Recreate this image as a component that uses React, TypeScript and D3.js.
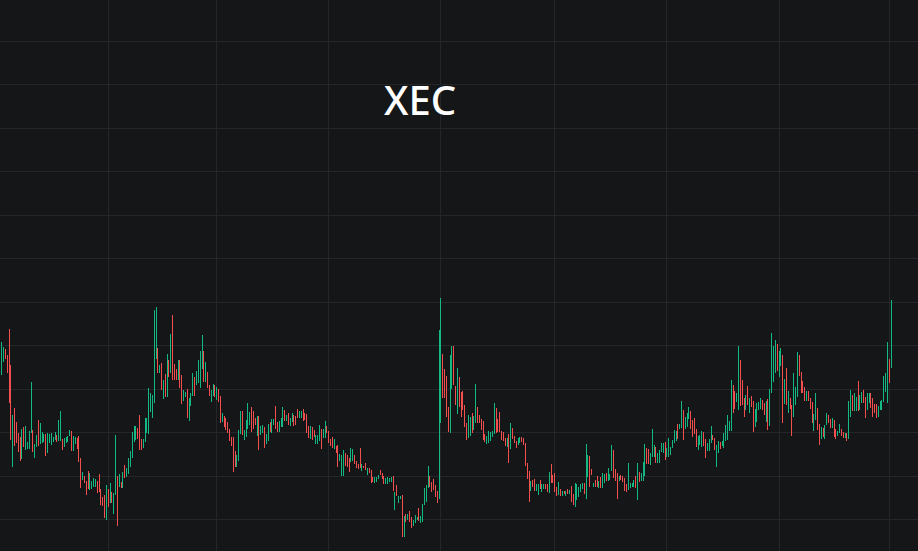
import React from "react";
import * as d3 from "d3";

// ---- data (daily candles, price in 1e-6 USD) ----
const TITLE = "XEC";
const FIRST_DAY = "2022-11-04";

const open = [
  27.11, 27.47, 27.70, 27.33, 27.74, 26.07, 23.15, 24.62, 24.20, 23.72,
  23.49, 23.20, 24.00, 23.53, 23.34, 23.50, 24.68, 23.82, 23.04, 23.50,
  24.23, 23.77, 23.67, 23.69, 23.64, 23.35, 23.64, 23.61, 23.64, 23.78,
  23.80, 23.90, 24.04, 23.56, 23.47, 23.62, 23.66, 23.94, 23.79, 23.36,
  23.58, 23.61, 23.50, 22.44, 21.93, 21.91, 21.59, 21.98, 21.59, 21.52,
  21.63, 21.62, 21.62, 21.86, 21.19, 20.93, 20.82, 20.46, 21.16, 21.03,
  21.14, 20.55, 21.96, 21.32, 21.69, 21.66, 21.67, 22.33, 22.10, 22.33,
  22.65, 23.21, 23.80, 23.86, 24.07, 24.33, 23.56, 23.43, 23.91, 24.19,
  24.58, 25.23, 25.00, 26.64, 28.10, 27.56, 26.84, 26.84, 25.81, 26.38,
  26.23, 27.10, 27.27, 28.51, 26.94, 26.77, 26.70, 26.95, 26.25, 25.62,
  25.73, 25.61, 24.86, 25.40, 26.00, 26.29, 26.38, 26.59, 26.57, 27.39,
  27.32, 26.62, 26.57, 26.04, 25.59, 25.86, 26.02, 25.68, 25.84, 25.31,
  24.62, 24.62, 24.50, 24.35, 24.00, 23.69, 23.33, 22.93, 22.60, 23.13,
  24.26, 24.67, 23.80, 24.05, 24.53, 24.54, 24.85, 24.75, 24.57, 24.13,
  24.30, 24.02, 24.08, 23.99, 23.62, 23.86, 24.37, 24.19, 24.43, 24.91,
  24.37, 24.20, 24.40, 24.56, 24.89, 24.63, 24.73, 24.42, 24.62, 24.66,
  24.65, 24.97, 24.76, 24.78, 24.93, 24.82, 24.60, 24.14, 23.89, 24.09,
  24.03, 23.60, 23.58, 23.83, 23.89, 23.87, 24.00, 24.21, 23.91, 23.61,
  23.66, 23.39, 23.29, 23.13, 22.80, 22.30, 22.37, 22.88, 22.81, 22.63,
  22.85, 22.87, 22.85, 22.61, 22.49, 23.01, 22.34, 22.44, 22.50, 22.14,
  22.30, 22.10, 21.91, 21.78, 21.82, 21.95, 22.23, 22.08, 21.90, 21.73,
  21.74, 21.78, 21.83, 21.81, 20.70, 21.43, 20.87, 20.98, 20.56, 19.50,
  20.15, 20.06, 20.24, 19.97, 19.79, 19.96, 20.02, 20.35, 19.95, 20.15,
  20.90, 21.05, 21.75, 21.86, 21.61, 21.72, 21.43, 21.16, 23.28, 26.19,
  27.01, 26.52, 26.05, 24.85, 25.07, 26.60, 27.45, 25.89, 25.49, 26.14,
  25.54, 25.66, 24.97, 24.22, 24.08, 24.12, 24.64, 24.32, 24.97, 24.97,
  24.70, 24.48, 24.28, 23.83, 23.59, 23.70, 23.75, 23.89, 24.37, 24.80,
  24.46, 24.69, 23.96, 23.92, 23.64, 23.48, 23.54, 23.61, 24.07, 23.76,
  23.52, 23.52, 23.60, 23.75, 23.66, 23.22, 22.39, 21.82, 21.46, 21.73,
  21.70, 21.42, 21.28, 21.70, 21.40, 21.47, 21.57, 21.54, 21.52, 22.30,
  21.95, 21.90, 21.40, 21.32, 21.32, 21.17, 21.28, 21.17, 21.34, 21.23,
  21.33, 21.03, 20.92, 21.12, 21.20, 21.39, 21.49, 21.54, 21.71, 22.28,
  22.51, 22.25, 21.55, 21.73, 21.85, 21.57, 21.81, 21.68, 21.82, 22.05,
  21.96, 21.90, 22.60, 22.81, 22.16, 21.78, 21.85, 21.98, 21.93, 21.73,
  21.54, 21.73, 21.52, 21.55, 21.61, 21.85, 21.42, 22.06, 21.88, 22.05,
  22.46, 23.06, 23.04, 22.68, 23.26, 23.06, 23.14, 22.76, 22.77, 23.24,
  23.20, 23.31, 23.01, 23.15, 23.09, 23.39, 23.69, 23.75, 24.19, 24.23,
  24.58, 24.63, 24.33, 24.47, 24.80, 24.74, 24.37, 24.46, 23.92, 23.40,
  23.59, 23.57, 23.83, 23.44, 23.27, 23.33, 23.75, 23.84, 23.58, 22.74,
  23.24, 23.46, 23.46, 23.51, 23.85, 24.01, 24.21, 24.79, 25.81, 25.68,
  25.54, 25.93, 26.71, 26.07, 25.35, 25.26, 25.89, 25.13, 25.53, 25.04,
  24.52, 24.77, 25.16, 25.25, 25.36, 25.21, 24.79, 25.12, 24.83, 26.65,
  26.84, 27.21, 27.70, 26.93, 27.33, 26.64, 25.67, 26.45, 25.22, 25.45,
  24.87, 25.35, 25.53, 26.26, 27.28, 26.51, 26.23, 25.92, 25.61, 25.79,
  25.45, 25.13, 24.32, 24.96, 24.84, 24.12, 23.88, 24.11, 23.90, 24.52,
  24.71, 24.50, 24.37, 24.35, 24.02, 23.92, 24.10, 24.08, 23.97, 23.83,
  23.87, 24.24, 25.11, 25.53, 25.25, 25.21, 25.97, 25.27, 25.51, 25.78,
  25.37, 25.28, 25.52, 25.62, 25.35, 25.19, 25.12, 24.89, 25.17, 25.18,
  25.78, 26.14, 26.20, 27.05, 27.92,
];

const high = [
  28.18, 27.95, 27.84, 27.57, 28.77, 27.11, 24.81, 25.15, 24.49, 23.97,
  23.82, 24.17, 24.28, 24.31, 23.58, 24.07, 26.33, 24.12, 23.48, 23.89,
  24.58, 24.44, 24.03, 23.94, 23.94, 23.97, 23.94, 23.97, 23.82, 24.05,
  23.89, 24.58, 24.99, 23.71, 23.74, 23.82, 23.86, 24.12, 24.07, 23.86,
  23.82, 23.77, 23.86, 22.85, 22.20, 22.01, 21.79, 22.23, 22.14, 21.79,
  21.90, 21.87, 21.79, 22.10, 21.41, 21.06, 21.13, 21.59, 21.40, 21.70,
  21.29, 21.24, 23.89, 22.01, 22.10, 21.75, 22.20, 22.51, 22.39, 22.85,
  23.15, 24.05, 24.31, 24.31, 24.23, 24.81, 23.71, 23.71, 24.69, 24.69,
  26.07, 25.84, 25.73, 29.64, 29.79, 27.91, 27.11, 27.22, 26.42, 26.70,
  27.62, 27.34, 28.54, 29.41, 27.16, 26.92, 27.34, 27.34, 26.65, 25.96,
  25.89, 26.01, 25.58, 25.81, 26.73, 26.55, 26.83, 27.34, 27.75, 28.49,
  27.75, 27.25, 26.79, 26.19, 25.96, 26.24, 26.19, 26.09, 26.01, 25.69,
  24.89, 24.77, 24.66, 24.51, 24.16, 23.82, 23.82, 23.15, 22.97, 24.12,
  25.01, 25.01, 24.12, 24.58, 25.38, 24.97, 25.20, 25.01, 24.66, 24.77,
  24.77, 24.32, 24.35, 24.28, 23.94, 24.40, 24.51, 24.63, 24.63, 25.23,
  24.51, 24.54, 24.69, 25.20, 25.04, 24.81, 24.89, 24.69, 24.92, 24.81,
  24.78, 25.11, 24.99, 24.99, 25.09, 24.92, 24.86, 24.31, 24.31, 24.28,
  24.12, 23.89, 23.89, 24.35, 24.17, 24.17, 24.54, 24.31, 24.07, 23.70,
  23.82, 23.71, 23.39, 23.43, 23.02, 22.97, 23.20, 23.05, 22.97, 22.82,
  23.28, 23.24, 22.97, 22.70, 22.56, 23.28, 22.56, 22.47, 22.59, 22.36,
  22.36, 22.27, 21.98, 21.95, 21.98, 22.08, 22.31, 22.16, 22.01, 21.90,
  21.98, 21.93, 21.98, 22.01, 21.29, 21.58, 21.09, 21.09, 21.13, 20.17,
  20.26, 20.26, 20.40, 20.11, 19.98, 20.21, 20.11, 20.52, 20.17, 20.72,
  21.44, 21.62, 22.47, 22.01, 21.75, 21.87, 21.59, 21.33, 28.72, 30.22,
  27.62, 26.92, 26.61, 25.20, 27.57, 27.99, 27.99, 26.15, 26.97, 26.55,
  25.89, 25.92, 25.27, 24.46, 24.81, 24.74, 24.92, 24.77, 26.24, 25.20,
  24.81, 24.63, 24.54, 23.94, 23.86, 24.07, 24.05, 24.07, 25.38, 25.15,
  24.63, 24.97, 24.09, 24.05, 23.74, 23.77, 23.94, 24.46, 24.23, 23.86,
  23.61, 23.74, 23.82, 23.82, 23.74, 23.54, 22.62, 22.25, 21.79, 21.82,
  21.87, 21.64, 21.64, 21.82, 21.64, 21.64, 21.64, 21.64, 22.19, 22.56,
  22.05, 22.16, 21.52, 21.75, 21.41, 21.32, 21.32, 21.33, 21.41, 21.36,
  21.55, 21.18, 21.67, 21.64, 21.52, 21.64, 21.70, 21.70, 23.48, 22.97,
  22.93, 22.33, 21.70, 21.82, 22.01, 21.79, 21.95, 22.16, 22.10, 22.16,
  22.36, 22.10, 23.43, 23.20, 22.33, 22.13, 22.01, 22.05, 22.01, 21.90,
  21.64, 22.59, 21.70, 21.70, 21.82, 22.01, 22.63, 22.20, 22.13, 22.65,
  23.48, 23.28, 23.24, 23.09, 24.17, 23.43, 23.36, 23.05, 23.20, 23.51,
  23.54, 23.56, 23.28, 23.74, 23.36, 23.66, 24.12, 24.09, 24.40, 24.40,
  25.46, 25.04, 24.74, 24.92, 25.20, 24.99, 24.61, 24.69, 24.16, 23.86,
  23.89, 24.07, 24.02, 23.70, 23.54, 23.71, 24.31, 23.92, 23.74, 23.43,
  23.61, 23.56, 23.63, 23.97, 24.35, 24.81, 24.54, 26.42, 26.19, 25.92,
  25.81, 27.99, 27.34, 26.42, 25.61, 25.76, 26.15, 25.61, 25.69, 25.46,
  25.09, 25.38, 25.43, 25.61, 25.50, 25.38, 25.46, 25.55, 26.01, 28.60,
  27.99, 28.26, 28.08, 27.75, 27.92, 27.57, 26.47, 26.96, 25.92, 25.61,
  25.30, 26.76, 26.12, 27.72, 27.57, 26.81, 26.39, 26.12, 25.93, 25.93,
  25.61, 25.43, 24.86, 25.84, 25.15, 24.40, 24.28, 24.23, 24.35, 24.92,
  24.81, 24.63, 24.69, 24.58, 24.16, 24.07, 24.40, 24.17, 24.05, 23.97,
  23.97, 25.46, 25.96, 25.76, 25.81, 25.66, 26.38, 25.73, 25.89, 25.96,
  25.66, 25.84, 25.84, 25.84, 25.61, 25.32, 25.32, 25.23, 25.47, 25.50,
  26.61, 26.73, 28.18, 27.38, 30.10,
];

const low = [
  26.65, 27.26, 27.38, 26.76, 25.35, 23.66, 22.44, 23.40, 23.54, 23.13,
  22.71, 22.78, 23.36, 23.20, 23.24, 23.25, 23.97, 23.13, 22.85, 23.33,
  23.40, 23.48, 23.51, 23.58, 22.94, 23.08, 23.51, 23.46, 23.56, 23.66,
  23.58, 23.61, 23.63, 23.20, 23.36, 23.54, 23.58, 23.86, 23.15, 23.15,
  23.48, 23.25, 22.66, 21.47, 21.82, 21.67, 21.13, 21.40, 21.36, 21.40,
  21.52, 21.52, 21.24, 21.29, 20.67, 20.63, 20.09, 19.98, 20.60, 20.75,
  20.78, 20.26, 21.13, 19.71, 21.52, 21.44, 21.44, 21.90, 21.98, 22.10,
  22.44, 22.85, 23.58, 23.66, 23.70, 23.20, 23.20, 23.31, 23.58, 23.97,
  23.94, 24.97, 24.69, 25.35, 27.38, 26.76, 26.73, 25.96, 25.55, 25.63,
  25.63, 26.55, 26.73, 26.42, 26.42, 26.42, 26.42, 26.04, 25.32, 25.47,
  25.66, 24.68, 24.55, 25.23, 25.69, 25.69, 26.19, 26.27, 26.07, 26.92,
  26.33, 26.35, 26.06, 25.69, 25.43, 25.69, 25.63, 25.50, 25.43, 24.43,
  24.51, 24.28, 24.12, 23.97, 23.63, 23.39, 22.20, 22.41, 22.44, 22.71,
  23.94, 23.89, 23.66, 23.82, 24.17, 24.35, 24.05, 24.16, 24.35, 23.86,
  23.20, 23.89, 23.97, 23.31, 23.48, 23.63, 24.05, 24.00, 24.35, 24.16,
  24.05, 24.05, 24.28, 24.28, 24.55, 24.55, 24.35, 24.31, 24.49, 24.32,
  24.35, 24.66, 24.66, 24.69, 24.55, 24.58, 24.00, 23.74, 23.71, 23.66,
  23.82, 23.48, 23.48, 23.61, 23.25, 23.74, 23.77, 23.97, 23.54, 23.39,
  23.28, 23.25, 23.05, 22.44, 22.71, 22.02, 22.02, 22.47, 22.44, 22.19,
  22.66, 22.71, 22.56, 22.39, 22.33, 22.39, 22.25, 22.36, 22.28, 22.05,
  22.16, 21.70, 21.75, 21.70, 21.75, 21.89, 22.05, 21.89, 21.65, 21.65,
  21.64, 21.72, 21.76, 21.33, 20.44, 21.09, 20.78, 20.94, 19.22, 19.22,
  19.88, 19.98, 19.88, 19.63, 19.71, 19.86, 19.98, 19.95, 19.86, 19.91,
  20.67, 20.80, 21.44, 21.52, 21.29, 21.36, 21.06, 20.75, 20.95, 24.46,
  25.58, 25.58, 24.74, 24.05, 24.00, 26.00, 26.19, 25.27, 24.86, 25.20,
  24.74, 25.04, 24.28, 23.66, 23.77, 23.86, 23.97, 24.12, 24.43, 24.43,
  24.43, 24.12, 23.66, 23.58, 23.48, 23.54, 23.63, 23.82, 23.94, 23.97,
  24.05, 24.05, 23.66, 23.63, 23.39, 23.36, 22.62, 23.25, 23.71, 23.51,
  23.31, 23.43, 23.51, 23.58, 23.43, 22.48, 21.87, 20.83, 21.32, 21.52,
  21.32, 21.32, 21.13, 21.40, 21.29, 21.40, 21.41, 21.29, 21.24, 21.70,
  21.70, 21.29, 21.10, 21.13, 21.10, 21.10, 21.18, 21.10, 21.18, 21.18,
  20.83, 20.67, 20.60, 20.90, 21.06, 21.29, 21.40, 21.18, 20.95, 21.98,
  21.52, 22.05, 21.49, 21.52, 21.49, 21.47, 21.47, 21.47, 21.70, 21.79,
  21.79, 21.82, 22.25, 21.90, 21.78, 20.95, 21.78, 21.82, 21.75, 21.32,
  21.29, 21.36, 21.44, 21.49, 21.52, 21.47, 20.90, 21.75, 21.78, 21.79,
  22.02, 22.56, 22.56, 22.51, 22.87, 22.90, 22.63, 22.63, 22.59, 23.13,
  23.05, 22.74, 22.90, 22.90, 22.97, 23.28, 23.51, 23.61, 23.71, 24.16,
  24.20, 23.66, 24.16, 24.28, 24.63, 24.16, 23.82, 23.94, 23.36, 23.20,
  23.46, 23.36, 23.40, 22.85, 23.15, 23.17, 23.51, 23.66, 23.20, 22.44,
  23.08, 23.24, 23.39, 23.31, 23.63, 23.66, 24.07, 24.09, 24.92, 25.11,
  25.43, 25.04, 25.23, 25.27, 24.74, 25.04, 25.27, 24.92, 25.17, 24.05,
  24.28, 24.51, 25.04, 25.09, 25.04, 24.81, 24.51, 24.12, 24.32, 25.81,
  26.35, 26.76, 26.83, 26.58, 27.07, 24.46, 25.32, 25.27, 24.92, 25.09,
  23.86, 24.74, 25.27, 25.63, 26.61, 25.81, 25.85, 25.47, 25.47, 25.46,
  25.09, 24.43, 24.09, 24.58, 24.12, 23.46, 23.71, 23.82, 23.71, 24.35,
  24.46, 24.20, 24.23, 23.82, 23.70, 23.86, 23.97, 23.86, 23.77, 23.77,
  23.63, 23.71, 24.74, 25.01, 25.01, 25.01, 25.01, 25.07, 25.35, 25.35,
  24.69, 25.04, 25.38, 25.12, 24.74, 24.89, 24.66, 24.74, 25.04, 25.04,
  25.43, 25.89, 25.35, 26.27, 26.99,
];

const close = [
  27.72, 27.74, 27.52, 27.00, 26.38, 24.70, 24.10, 23.93, 23.83, 23.38,
  23.04, 23.75, 23.64, 23.98, 23.48, 23.82, 25.62, 23.43, 23.29, 23.72,
  23.75, 24.15, 23.87, 23.83, 23.24, 23.70, 23.81, 23.82, 23.74, 23.93,
  23.67, 24.29, 24.58, 23.35, 23.63, 23.74, 23.78, 24.04, 23.43, 23.65,
  23.72, 23.41, 23.02, 21.88, 22.09, 21.77, 21.33, 21.65, 21.91, 21.67,
  21.79, 21.77, 21.41, 21.53, 20.89, 20.76, 20.40, 21.11, 20.84, 21.42,
  20.93, 20.95, 23.06, 20.40, 21.93, 21.53, 21.97, 22.08, 22.27, 22.62,
  22.94, 23.69, 24.09, 24.11, 23.86, 23.68, 23.35, 23.59, 24.36, 24.47,
  25.43, 25.58, 25.42, 28.35, 29.07, 27.11, 27.00, 26.34, 26.16, 25.95,
  27.02, 26.79, 28.00, 27.32, 26.64, 26.57, 27.06, 26.43, 25.72, 25.81,
  25.82, 25.08, 25.27, 25.64, 26.42, 25.95, 26.64, 27.02, 27.25, 28.02,
  26.76, 26.98, 26.28, 25.84, 25.80, 26.07, 25.80, 25.91, 25.60, 24.81,
  24.78, 24.43, 24.28, 24.13, 23.79, 23.52, 22.69, 22.63, 22.81, 23.70,
  24.69, 24.23, 23.98, 24.35, 25.02, 24.78, 24.40, 24.42, 24.44, 24.50,
  23.67, 24.19, 24.24, 23.60, 23.80, 24.17, 24.19, 24.44, 24.55, 24.48,
  24.19, 24.39, 24.57, 24.92, 24.70, 24.73, 24.51, 24.58, 24.79, 24.47,
  24.48, 24.80, 24.89, 24.90, 24.71, 24.68, 24.26, 23.91, 24.13, 23.85,
  23.91, 23.77, 23.80, 24.13, 23.53, 24.04, 24.31, 24.07, 23.70, 23.48,
  23.44, 23.57, 23.15, 22.74, 22.93, 22.69, 22.85, 22.64, 22.60, 22.38,
  23.09, 23.08, 22.68, 22.48, 22.40, 22.66, 22.47, 22.39, 22.37, 22.27,
  22.22, 21.87, 21.82, 21.87, 21.91, 22.02, 22.13, 21.97, 21.76, 21.82,
  21.88, 21.87, 21.91, 21.53, 21.03, 21.24, 21.00, 21.05, 19.79, 19.89,
  19.99, 20.18, 20.04, 19.77, 19.90, 20.11, 20.08, 20.12, 20.08, 20.48,
  21.21, 21.37, 22.16, 21.67, 21.43, 21.51, 21.22, 20.92, 26.39, 28.49,
  26.19, 25.98, 25.30, 24.40, 26.50, 27.39, 26.73, 25.53, 26.34, 25.61,
  25.09, 25.30, 24.58, 23.90, 24.50, 24.48, 24.25, 24.57, 25.70, 24.66,
  24.54, 24.27, 23.92, 23.68, 23.75, 23.91, 23.92, 24.00, 24.95, 24.32,
  24.22, 24.33, 23.79, 23.76, 23.49, 23.65, 23.02, 24.10, 23.87, 23.61,
  23.40, 23.65, 23.73, 23.65, 23.51, 22.80, 22.10, 21.26, 21.65, 21.61,
  21.49, 21.54, 21.49, 21.53, 21.54, 21.57, 21.48, 21.39, 21.91, 21.96,
  21.80, 21.55, 21.22, 21.56, 21.19, 21.25, 21.22, 21.26, 21.25, 21.31,
  21.05, 20.82, 21.35, 21.42, 21.38, 21.54, 21.61, 21.34, 22.72, 22.67,
  21.94, 22.13, 21.64, 21.61, 21.65, 21.70, 21.61, 21.95, 21.98, 21.90,
  22.19, 22.02, 23.08, 22.29, 21.95, 21.30, 21.94, 21.89, 21.82, 21.49,
  21.39, 22.22, 21.62, 21.64, 21.73, 21.63, 22.11, 21.89, 22.03, 22.39,
  23.04, 22.78, 22.76, 22.92, 23.78, 23.27, 22.85, 22.92, 23.02, 23.40,
  23.39, 22.99, 23.17, 23.49, 23.24, 23.55, 23.94, 23.95, 23.92, 24.33,
  25.08, 24.07, 24.57, 24.73, 25.03, 24.41, 24.06, 24.17, 23.60, 23.66,
  23.76, 23.86, 23.59, 23.11, 23.42, 23.55, 24.07, 23.74, 23.36, 23.13,
  23.45, 23.34, 23.56, 23.77, 24.13, 24.46, 24.40, 25.72, 25.30, 25.35,
  25.70, 27.10, 25.86, 25.62, 25.00, 25.54, 25.53, 25.40, 25.33, 24.47,
  24.85, 25.12, 25.31, 25.45, 25.18, 24.98, 25.18, 24.55, 25.50, 27.76,
  27.50, 27.81, 27.21, 27.40, 27.66, 25.39, 26.12, 25.78, 25.62, 25.25,
  24.29, 26.15, 25.86, 27.09, 26.90, 26.11, 26.01, 25.67, 25.79, 25.60,
  25.25, 24.73, 24.63, 25.46, 24.43, 23.74, 24.11, 23.94, 24.16, 24.75,
  24.57, 24.33, 24.55, 24.05, 23.84, 24.01, 24.27, 23.95, 23.85, 23.91,
  23.73, 24.93, 25.59, 25.24, 25.57, 25.46, 25.42, 25.53, 25.73, 25.53,
  24.98, 25.60, 25.70, 25.34, 25.00, 25.02, 24.86, 25.08, 25.34, 25.36,
  26.26, 26.48, 27.33, 26.60, 29.17,
];

const priceTicks = [20, 22, 24, 26, 28, 30, 32, 34, 36, 38, 40, 42];
const timeTicks = [
  "2023-01-01", "2023-03-01", "2023-05-01", "2023-07-01",
  "2023-09-01", "2023-11-01", "2024-01-01", "2024-03-01",
];

// ---- layout / style ----
const W = 918;
const H = 551;
const BG = "#151618";
const GRID = "#25262a";
const UP = "#14b982";
const DOWN = "#f44f4f";
const DAY = 864e5;

export default function App() {
  const start = new Date(FIRST_DAY + "T00:00:00Z");
  const n = Math.min(open.length, high.length, low.length, close.length);
  const dates = d3.utcDays(start, d3.utcDay.offset(start, n));

  const x = d3
    .scaleUtc()
    .domain([new Date(+start - 0.936 * DAY), new Date(+start + 498.64 * DAY)])
    .range([0, W]);
  const y = d3.scaleLinear().domain([20, 42]).range([519.8, 41.3]);

  const candles = d3.range(n).map((i) => {
    const px = Math.floor(x(dates[i]));
    const top = Math.round(y(high[i]));
    const bot = Math.round(y(low[i]));
    const bTop = Math.round(y(Math.max(open[i], close[i])));
    const bBot = Math.round(y(Math.min(open[i], close[i])));
    const color = close[i] >= open[i] ? UP : DOWN;
    return { i, px, top, bot, bTop, bBot, color };
  });

  return (
    <svg
      width={W}
      height={H}
      viewBox={`0 0 ${W} ${H}`}
      style={{ position: "absolute", left: 0, top: 0, display: "block" }}
    >
      <rect x={0} y={0} width={W} height={H} fill={BG} />
      <g shapeRendering="crispEdges" stroke={GRID} strokeWidth={1}>
        {priceTicks.map((t) => {
          const py = Math.floor(y(t)) + 0.5;
          return <line key={"h" + t} x1={0} x2={W} y1={py} y2={py} />;
        })}
        {timeTicks.map((t) => {
          const px = Math.floor(x(new Date(t + "T00:00:00Z"))) + 0.5;
          return <line key={"v" + t} x1={px} x2={px} y1={0} y2={H} />;
        })}
      </g>
      <g shapeRendering="crispEdges">
        {candles.map((c) => (
          <g key={c.i} fill={c.color}>
            <rect x={c.px} y={c.top} width={1} height={Math.max(1, c.bot - c.top)} />
            <rect x={c.px} y={c.bTop} width={1} height={Math.max(1, c.bBot - c.bTop)} />
          </g>
        ))}
      </g>
      <text
        x={420}
        y={115}
        textAnchor="middle"
        fill="#ffffff"
        fontFamily="'Noto Sans', 'Open Sans', sans-serif"
        fontSize={40}
        fontWeight={500}
      >
        {TITLE}
      </text>
    </svg>
  );
}
